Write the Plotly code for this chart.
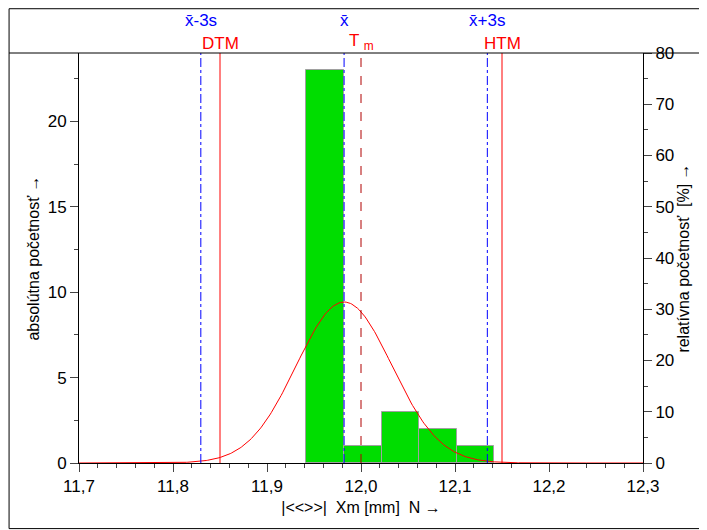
import numpy as np
import plotly.graph_objects as go

# histogram data
bin_edges = [11.942, 11.982, 12.022, 12.062, 12.102, 12.142]
counts = [23, 1, 3, 2, 1]
n_total = sum(counts)

# statistics and tolerance limits
mean_x = 11.982
sd_x = 0.0508
dtm = 11.85
htm = 12.15
tm = 12.0

centers = [(a + b) / 2 for a, b in zip(bin_edges[:-1], bin_edges[1:])]
widths = [b - a for a, b in zip(bin_edges[:-1], bin_edges[1:])]
bw = widths[0]

# fitted normal curve
xs = np.linspace(11.7, 12.3, 400)
ys = n_total * bw / (sd_x * np.sqrt(2 * np.pi)) * np.exp(-0.5 * ((xs - mean_x) / sd_x) ** 2)

fig = go.Figure()
fig.add_trace(go.Bar(x=centers, y=counts, width=widths,
                     marker=dict(color="#00dd00", line=dict(color="#a0a0a0", width=1))))
fig.add_trace(go.Scatter(x=xs, y=ys, mode="lines", line=dict(color="red", width=1)))
# invisible trace so the right axis is drawn
fig.add_trace(go.Scatter(x=[11.7], y=[0], yaxis="y2", mode="lines", line=dict(width=0)))

YMAX = 24
vlines = [
    (mean_x - 3 * sd_x, "blue", "dashdot"),
    (mean_x, "blue", "dashdot"),
    (mean_x + 3 * sd_x, "blue", "dashdot"),
    (dtm, "red", "solid"),
    (htm, "red", "solid"),
    (tm, "#b00000", "dash"),
]
for xv, col, dash in vlines:
    fig.add_shape(type="line", x0=xv, x1=xv, y0=0, y1=YMAX, xref="x", yref="y",
                  line=dict(color=col, width=1, dash=dash))

labels_blue = [(mean_x - 3 * sd_x, "x̄-3s"), (mean_x, "x̄"), (mean_x + 3 * sd_x, "x̄+3s")]
labels_red = [(dtm, "DTM"), (tm, "T <sub>m</sub>"), (htm, "HTM")]
for xv, t in labels_blue:
    fig.add_annotation(x=xv, y=1.05, xref="x", yref="paper", yanchor="bottom", text=t,
                       showarrow=False, font=dict(color="blue", size=17))
for xv, t in labels_red:
    fig.add_annotation(x=xv, y=0.995, xref="x", yref="paper", yanchor="bottom", text=t,
                       showarrow=False, font=dict(color="red", size=17))

# outer frame and top separator
fig.add_shape(type="rect", xref="paper", yref="paper", x0=-0.124, x1=1.11, y0=-0.16, y1=1.108,
              line=dict(color="black", width=1))
fig.add_shape(type="line", xref="paper", yref="paper", x0=-0.124, x1=1.11, y0=1, y1=1,
              line=dict(color="black", width=1))

fig.update_layout(
    width=707, height=530,
    margin=dict(l=71, r=72, t=45, b=75),
    paper_bgcolor="white", plot_bgcolor="white",
    showlegend=False, bargap=0,
    font=dict(family="Liberation Sans, Arial", size=17, color="black"),
    xaxis=dict(range=[11.7, 12.3], tickvals=[11.7, 11.8, 11.9, 12.0, 12.1, 12.2, 12.3],
               ticktext=["11,7", "11,8", "11,9", "12,0", "12,1", "12,2", "12,3"],
               ticks="outside", ticklen=8, showgrid=False, zeroline=False,
               showline=True, linecolor="black", tickfont=dict(size=17),
               minor=dict(dtick=0.02, ticks="outside", ticklen=4),
               title=dict(text="|<<>>|  Xm [mm]  N →", font=dict(size=16), standoff=6)),
    yaxis=dict(range=[0, YMAX], dtick=5, ticks="outside", ticklen=8, showgrid=False,
               zeroline=False, showline=True, linecolor="black", tickfont=dict(size=17),
               minor=dict(dtick=2.5, ticks="outside", ticklen=4),
               title=dict(text="absolútna početnosť →", font=dict(size=16), standoff=4)),
    yaxis2=dict(range=[0, 80], dtick=10, overlaying="y", side="right", ticks="outside",
                ticklen=8, showgrid=False, zeroline=False, showline=True, linecolor="black",
                tickfont=dict(size=17),
                minor=dict(dtick=5, ticks="outside", ticklen=4),
                title=dict(text="relatívna početnosť  [%] →", font=dict(size=16), standoff=4)),
)

fig.write_html("out.html")
